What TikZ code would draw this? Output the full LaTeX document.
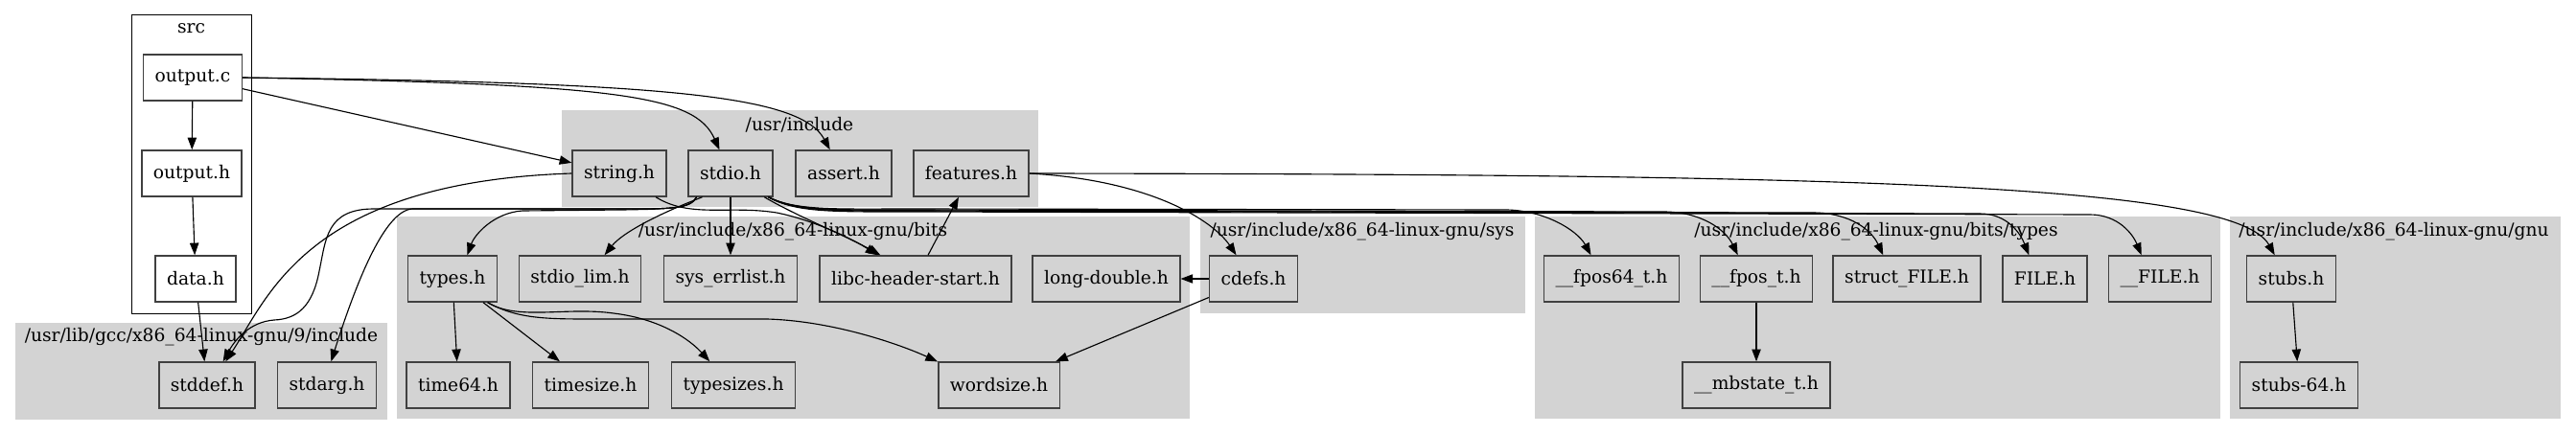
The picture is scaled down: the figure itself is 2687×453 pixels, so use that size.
\documentclass[tikz,border=0pt]{standalone}
\usepackage{fontspec}
\setmainfont{DejaVu Serif}
\usetikzlibrary{arrows.meta}
\definecolor{clustgray}{HTML}{D3D3D3}
\tikzset{
  hdr/.style={draw=black!75, fill=clustgray, line width=1.1pt, minimum height=36pt,
    inner xsep=9pt, inner ysep=0pt, font=\fontsize{14}{16}\selectfont},
  srcfile/.style={hdr, fill=white},
  dep/.style={draw, line width=0.85pt, -{Triangle[length=9.5pt,width=7pt]}},
  clust/.style={fill=clustgray},
  clab/.style={font=\fontsize{14}{16}\selectfont}
}
\begin{document}
\begin{tikzpicture}[x=0.75pt,y=-0.75pt]
\fill[white] (0,0) rectangle (2687,453);
\useasboundingbox (0,0) rectangle (2687,453);
% clusters
\draw[fill=white, line width=0.7pt] (137,15) rectangle (262.5,327);
\node[clab] (Lsrc) at (199.5,30) {src};
\fill[clust] (15.6,337) rectangle (404,438);
\node[clab] (Lgcc) at (210,352) {/usr/lib/gcc/x86\_64-linux-gnu/9/include};
\fill[clust] (586,115) rectangle (1082.6,216);
\node[clab] (Linc) at (834,130) {/usr/include};
\fill[clust] (414,226) rectangle (1241,437);
\node[clab] (Lbits) at (827,242) {/usr/include/x86\_64-linux-gnu/bits};
\fill[clust] (1251.5,226) rectangle (1591,327);
\node[clab] (Lsys) at (1421,242) {/usr/include/x86\_64-linux-gnu/sys};
\fill[clust] (1601,226) rectangle (2316,437);
\node[clab] (Ltypes) at (1957,242) {/usr/include/x86\_64-linux-gnu/bits/types};
\fill[clust] (2326,226) rectangle (2670.5,437);
\node[clab] (Lgnu) at (2497,242) {/usr/include/x86\_64-linux-gnu/gnu};
% files
\node[srcfile] (outc) at (201,81) {output.c};
\node[srcfile] (outh) at (200,181) {output.h};
\node[srcfile] (datah) at (204,291) {data.h};
\node[hdr] (stddef) at (216,402) {stddef.h};
\node[hdr] (stdarg) at (341,402) {stdarg.h};
\node[hdr] (stringh) at (646,181) {string.h};
\node[hdr] (stdioh) at (762,181) {stdio.h};
\node[hdr] (asserth) at (880,181) {assert.h};
\node[hdr] (features) at (1013,181) {features.h};
\node[hdr] (typesh) at (472,291) {types.h};
\node[hdr] (stdiolim) at (605,291) {stdio\_lim.h};
\node[hdr] (syserr) at (762,291) {sys\_errlist.h};
\node[hdr] (libc) at (955,291) {libc-header-start.h};
\node[hdr] (longdbl) at (1154,291) {long-double.h};
\node[hdr] (time64) at (478,402) {time64.h};
\node[hdr] (timesize) at (616,402) {timesize.h};
\node[hdr] (typesizes) at (765,402) {typesizes.h};
\node[hdr] (wordsize) at (1042,402) {wordsize.h};
\node[hdr] (cdefs) at (1307.5,291) {cdefs.h};
\node[hdr] (fpos64) at (1681,291) {\_\_fpos64\_t.h};
\node[hdr] (fpos) at (1832,291) {\_\_fpos\_t.h};
\node[hdr] (structfile) at (1989,291) {struct\_FILE.h};
\node[hdr] (fileh) at (2133,291) {FILE.h};
\node[hdr] (ufile) at (2253,291) {\_\_FILE.h};
\node[hdr] (mbstate) at (1832,402) {\_\_mbstate\_t.h};
\node[hdr] (stubs) at (2390,291) {stubs.h};
\node[hdr] (stubssixtyfour) at (2398,402) {stubs-64.h};
% straight includes
\path[dep]
  (outc) edge (outh)
  (outh) edge (datah)
  (outc) edge (stringh)
  (datah) edge (stddef)
  (stdioh) edge (syserr)
  (libc) edge (features)
  (cdefs) edge (longdbl)
  (cdefs) edge (wordsize)
  (typesh) edge (time64)
  (typesh) edge (timesize)
  (fpos) edge (mbstate)
  (stubs) edge (stubssixtyfour)
;
% curved includes
\draw[dep] (outc.east) .. controls (650,88) and (725,100) .. (stdioh.115);
\draw[dep] (outc.east) .. controls (700,86) and (835,100) .. (asserth.120);
\draw[dep] (stringh.west) .. controls (320,190) and (280,310) .. (stddef.52);
\draw[dep] (stringh.-33) .. controls (720,228) and (760,214) .. (810,222)
  .. controls (850,230) and (890,250) .. (libc.148);
\draw[dep] (stdioh.215) .. controls (720,218) and (700,218) .. (650,218) -- (390,218)
  .. controls (340,218) and (340,250) .. (333,283)
  .. controls (326,320) and (310,333) .. (286,334)
  .. controls (260,336) and (245,355) .. (stddef.56);
\draw[dep] (stdioh.215) .. controls (720,218) and (700,218) .. (650,218) -- (430,218)
  .. controls (400,220) and (370,300) .. (stdarg.80);
\draw[dep] (stdioh.215) .. controls (720,218) and (700,218) .. (650,219) -- (545,220)
  .. controls (515,222) and (495,245) .. (typesh.58);
\draw[dep] (stdioh.220) .. controls (690,222) and (650,242) .. (stdiolim.44);
\draw[dep] (stdioh.-35) .. controls (830,225) and (880,245) .. (libc.146);
\draw[dep] (features.east) .. controls (1200,188) and (1265,230) .. (cdefs.126);
\draw[dep] (features.east) .. controls (1900,182) and (2330,190) .. (stubs.125);
\draw[dep] (stdioh.-32) .. controls (830,220) and (870,218) .. (950,218) -- (1570,219)
  .. controls (1610,219) and (1645,240) .. (fpos64.131);
\draw[dep] (stdioh.-32) .. controls (830,220) and (870,219) .. (950,219) -- (1735,221)
  .. controls (1775,221) and (1800,240) .. (fpos.128);
\draw[dep] (stdioh.-32) .. controls (830,221) and (870,220) .. (950,220) -- (1890,222)
  .. controls (1930,222) and (1952,240) .. (structfile.135);
\draw[dep] (stdioh.-32) .. controls (830,221) and (870,220) .. (950,220) -- (2065,223)
  .. controls (2095,223) and (2108,245) .. (fileh.124);
\draw[dep] (stdioh.-32) .. controls (830,222) and (870,221) .. (950,221) -- (2180,224)
  .. controls (2210,224) and (2225,245) .. (ufile.128);
\draw[dep] (typesh.-34) .. controls (540,335) and (590,320) .. (640,327)
  .. controls (690,333) and (720,355) .. (typesizes.135);
\draw[dep] (typesh.-34) .. controls (540,333) and (570,333) .. (620,333) -- (800,333)
  .. controls (870,335) and (940,360) .. (wordsize.159);
\end{tikzpicture}
\end{document}
